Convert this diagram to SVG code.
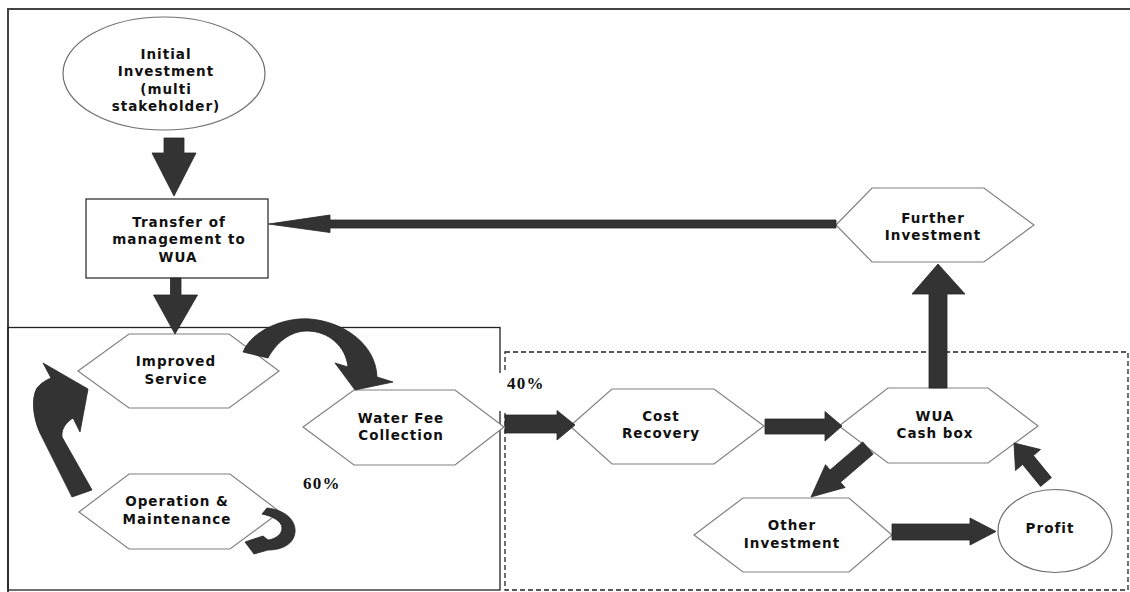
<svg xmlns="http://www.w3.org/2000/svg" width="1130" height="592" viewBox="0 0 1130 592">
<style>
.hex{fill:#fff;stroke:#808080;stroke-width:1.2}
.oval{fill:#fff;stroke:#6e6e6e;stroke-width:1.2}
.box{fill:#fff;stroke:#222;stroke-width:1.2}
.lbl{font-family:"DejaVu Sans",Verdana,sans-serif;font-weight:bold;font-size:13.5px;letter-spacing:1px;text-anchor:middle;fill:#111}
.pct{font-family:"Liberation Serif","Times New Roman",serif;font-weight:bold;font-size:17px;letter-spacing:1.2px;fill:#111}
.arr{fill:#333;stroke:#262626;stroke-width:0.8;stroke-linejoin:round}
</style>
<rect width="1130" height="592" fill="#fff"/>
<g id="frame">
<path d="M1130,9 H8 V592" fill="none" stroke="#444" stroke-width="2"/>
<rect x="8" y="327.5" width="492" height="262.5" fill="none" stroke="#222" stroke-width="1.3"/>
<rect x="505" y="352" width="623" height="238" fill="none" stroke="#222" stroke-width="1.3" stroke-dasharray="5,3"/>
</g>
<g id="initial-investment">
<ellipse class="oval" cx="164" cy="73.5" rx="101" ry="56.5"/>
<text class="lbl" x="166" y="58.5">Initial</text>
<text class="lbl" x="166" y="76">Investment</text>
<text class="lbl" x="166" y="93.5">(multi</text>
<text class="lbl" x="166" y="111">stakeholder)</text>
</g>
<g id="transfer">
<rect class="box" x="86" y="199" width="182" height="79"/>
<text class="lbl" x="179" y="226.5">Transfer of</text>
<text class="lbl" x="179" y="243.5">management to</text>
<text class="lbl" x="178" y="261.5">WUA</text>
</g>
<g id="further-investment">
<polygon class="hex" points="836,225 872,188 984,188 1034,225 984,262 872,262"/>
<text class="lbl" x="933" y="222.5">Further</text>
<text class="lbl" x="933" y="240">Investment</text>
</g>
<g id="improved-service">
<polygon class="hex" points="78,371 129,334 229,334 279,371 229,408 129,408"/>
<text class="lbl" x="176" y="366">Improved</text>
<text class="lbl" x="176" y="383.5">Service</text>
</g>
<g id="water-fee">
<polygon class="hex" points="303,427 354,390 455,390 504,427 455,465 354,465"/>
<text class="lbl" x="401" y="422.5">Water Fee</text>
<text class="lbl" x="401" y="440">Collection</text>
</g>
<g id="operation-maintenance">
<polygon class="hex" points="79,512 129,474 230,474 280,512 230,549 129,549"/>
<text class="lbl" x="177" y="506">Operation &amp;</text>
<text class="lbl" x="177" y="524">Maintenance</text>
</g>
<g id="cost-recovery">
<polygon class="hex" points="570,426 612,389 714,389 764,426 714,464 612,464"/>
<text class="lbl" x="661" y="421">Cost</text>
<text class="lbl" x="661" y="438">Recovery</text>
</g>
<g id="wua-cash-box">
<polygon class="hex" points="839,426 888,388 988,388 1038,426 988,463 888,463"/>
<text class="lbl" x="935" y="420.5">WUA</text>
<text class="lbl" x="935" y="437.5">Cash box</text>
</g>
<g id="other-investment">
<polygon class="hex" points="694,535 743,498 849,498 892,535 849,572 743,572"/>
<text class="lbl" x="792" y="530">Other</text>
<text class="lbl" x="792" y="547.5">Investment</text>
</g>
<g id="profit">
<ellipse class="oval" cx="1055" cy="531" rx="57" ry="41.5"/>
<text class="lbl" x="1050" y="533">Profit</text>
</g>
<g id="connectors">
<path class="arr" d="M164,138 H184 V153 H196 L174,196 L152,153 H164 Z"/>
<path class="arr" d="M170.5,278 H181 V295 H197.5 L175,334 L153.5,295 H170.5 Z"/>
<path class="arr" d="M836,220 H330 V215 L268.5,224 L330,232.5 V228 H836 Z"/>
<path class="arr" d="M929,388 V294 H912 L938,264 L965,294 H947 V388 Z"/>
<path class="arr" d="M505,415 H557 V410.5 L575,425 L557,440 V433 H505 Z"/>
<path class="arr" d="M765,419 H825 V411.5 L842,426 L825,441 V434 H765 Z"/>
<path class="arr" d="M892,524 H970 V518 L996,531.5 L970,545 V540 H892 Z"/>
<polygon class="arr" points="862.8,441.9 830.1,470 825.5,464.7 811,497 845.1,487.5 840.5,482.2 873.2,454.1"/>
<polygon class="arr" points="1051.4,477.6 1033.4,455.6 1040.5,449.5 1014,443 1015.5,470.5 1022.6,464.4 1040.6,486.4"/>
<path class="arr" d="M243,352 C252,330 285,317 310,319 C345,322 376,345 377,377 L393,382 L355,390 L335,363 L348,367 C346,346 328,331 307,331 C290,331 276,343 268,358 Z"/>
<path class="arr" d="M72,497 L40,433 C33,418 31,398 37,388 C41,383 46,380 51,378 L43,363 L88,389 L80,432 L73,418 C67,422 61,428 62,437 L92,490 Z"/>
<path class="arr" d="M262,514 L267,508 C285,510 296,520 295,532 C294,544 282,550 268,550 L254,554 L245,542 L263,536 L268,540 C276,539 282,534 282,528 C282,521 272,516 262,514 Z"/>
</g>
<g id="labels">
<rect x="497" y="373" width="50" height="38" fill="#fff"/>
<text class="pct" x="507" y="389">40%</text>
<text class="pct" x="303" y="488.5">60%</text>
</g>
</svg>
